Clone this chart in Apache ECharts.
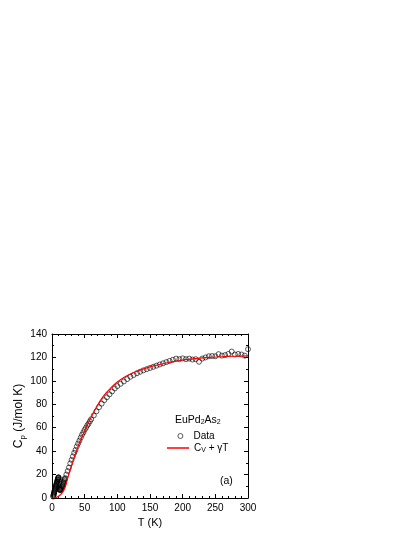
<!DOCTYPE html>
<html>
<head>
<meta charset="utf-8">
<script src="https://cdn.jsdelivr.net/npm/echarts@6/dist/echarts.min.js"></script>
<style>
  html, body { margin: 0; padding: 0; background: #fff; }
  #chart { width: 415px; height: 537px; }
</style>
</head>
<body>
<div id="chart"></div>
<script>
  // measured Cp points (T in K, Cp in J/mol K)
  var tData = [1.8, 2.1, 2.4, 2.7, 3.0, 3.3, 3.6, 3.9, 4.2, 4.5, 4.8, 5.1, 5.4, 5.7, 6.0, 6.3, 6.6, 6.9, 7.2, 7.5, 7.8, 8.1, 8.4, 8.7,
    9.0, 9.3, 9.6, 9.9, 10.2, 10.5, 10.8, 11.1, 11.4, 11.7, 12, 12.5, 13, 13.5, 14, 14.5, 15, 15.5, 16, 16.5, 17, 17.5, 18, 18.5, 19, 19.5,
    20, 22, 24, 26, 28, 30, 32, 34, 36, 38, 40, 42, 44, 46, 48, 50, 52, 54, 56, 58, 60, 64, 68, 72, 76, 80, 84, 88, 92, 96,
    100, 105, 110, 115, 120, 125, 130, 135, 140, 145, 150, 155, 160, 165, 170, 175, 180, 185, 190, 195, 200, 205, 210, 215,
    220, 225, 230, 235, 240, 245, 250, 255, 260, 265, 270, 275, 280, 285, 290, 295, 300]
  var cpData = [1.2, 1.8, 2.5, 3.2, 4, 4.6, 5.3, 6, 6.6, 7.2, 7.8, 8.4, 9, 9.6, 10.2, 10.8, 11.4, 12, 12.6, 13.2, 13.8, 14.4, 15, 15.6,
    16.2, 16.8, 17.3, 17.7, 17.5, 15.5, 12.5, 9.5, 8, 7.3, 7, 6.8, 6.8, 7.1, 7.5, 8.2, 9, 9.7, 10.5, 11.2, 12, 12.8, 13.5, 14.5, 15.5, 16.2,
    17, 20, 23, 26, 29.5, 32.5, 35.5, 38.5, 41, 44, 46.5, 49, 51.5, 54, 56, 58.2, 60, 62, 63.5, 65.5, 67.3, 70.5, 74, 77.5, 80.5, 83.5, 86, 88.5, 91, 93.5,
    95.5, 97.5, 99.5, 101.5, 103.5, 105, 106.5, 107.8, 109, 110, 111, 112, 113, 114, 115, 116, 117, 118, 119, 118.5, 119.2, 118.5, 119, 118.2,
    118.5, 116.3, 119, 120, 121, 121.2, 121, 122.8, 121.5, 122, 123, 125, 122.5, 123, 122.5, 121.5, 127]

  // fit curve Cv + gamma T
  var tFit = [0, 5, 10, 15, 20, 25, 30, 35, 40, 45, 50, 55, 60, 65, 70, 75, 80, 85, 90, 100, 110, 120, 130, 140, 150, 160, 170, 180, 190, 200, 220, 240, 260, 280, 300]
  var cpFit = [0, 0.2, 1.5, 4, 9, 19, 28, 36.5, 44, 51, 57.5, 63.5, 69, 74.5, 79.5, 84, 87.8, 91, 94, 99, 102.8, 105.8, 108.2, 110.2, 111.9, 113.3, 114.6, 115.8, 116.9, 117.8, 119, 120, 120.6, 121, 121.3]

  var xRange = [0, 300, 50]
  var yRange = [0, 140, 20]

  var chart = echarts.init(document.getElementById('chart'))
  var font = 'Liberation Sans, Arial, sans-serif'

  function makeAxis(pos, showLabel, range, minor) {
    return {
      type: 'value',
      position: pos,
      min: range[0],
      max: range[1],
      interval: range[2],
      axisLine: { show: true, onZero: false, lineStyle: { color: '#000', width: 1 } },
      axisTick: { show: true, inside: true, length: 4, lineStyle: { color: '#000' } },
      minorTick: { show: true, splitNumber: minor, length: 2, lineStyle: { color: '#000' } },
      splitLine: { show: false },
      axisLabel: { show: showLabel, color: '#000', fontSize: 10, fontFamily: font, margin: 5 }
    }
  }

  var xBottom = makeAxis('bottom', true, xRange, 5)
  xBottom.name = 'T (K)'
  xBottom.nameLocation = 'middle'
  xBottom.nameGap = 19
  xBottom.nameTextStyle = { color: '#000', fontSize: 11, fontFamily: font }

  var yLeft = makeAxis('left', true, yRange, 2)
  yLeft.name = '{a|C}{b|p}{a| (J/mol K)}'
  yLeft.nameLocation = 'middle'
  yLeft.nameGap = 17
  yLeft.nameTextStyle = {
    color: '#000', fontFamily: font,
    rich: {
      a: { fontSize: 12, fontFamily: font, color: '#000', lineHeight: 16 },
      b: { fontSize: 8, fontFamily: font, color: '#000', lineHeight: 16, padding: [7, 0, 0, 0] }
    }
  }

  var legendText = {
    color: '#000', fontSize: 10, fontFamily: font, lineHeight: 12,
    rich: {
      n: { fontSize: 10, fontFamily: font, color: '#000', lineHeight: 12 },
      s: { fontSize: 7, fontFamily: font, color: '#000', lineHeight: 12, padding: [5, 0, 0, 0] }
    }
  }

  var option = {
    animation: false,
    backgroundColor: '#fff',
    grid: { left: 52, right: 167, top: 334, bottom: 39 },
    xAxis: [xBottom, makeAxis('top', false, xRange, 5)],
    yAxis: [yLeft, makeAxis('right', false, yRange, 2)],
    legend: [
      {
        left: 177.5,
        top: 430,
        padding: 0,
        itemWidth: 5,
        itemHeight: 5,
        data: [{ name: 'Data', icon: 'circle' }],
        itemStyle: { color: '#fff', borderColor: '#000', borderWidth: 0.8 },
        textStyle: legendText,
        formatter: function () { return '{n|  Data}' }
      },
      {
        left: 167,
        top: 442,
        padding: 0,
        itemWidth: 22,
        itemHeight: 1.5,
        data: [{ name: 'Cv + γT', icon: 'rect' }],
        itemStyle: { color: '#ff0000' },
        textStyle: legendText,
        formatter: function () { return '{n|C}{s|V}{n| + γT}' }
      }
    ],
    graphic: [
      {
        type: 'text',
        left: 175,
        top: 414,
        style: {
          text: '{n|EuPd}{s|2}{n|As}{s|2}',
          rich: {
            n: { fontSize: 10.5, fontFamily: font, fill: '#000', lineHeight: 12 },
            s: { fontSize: 7, fontFamily: font, fill: '#000', lineHeight: 12, padding: [5, 0, 0, 0] }
          }
        }
      },
      {
        type: 'text',
        left: 220,
        top: 476,
        style: { text: '(a)', fontSize: 10.5, fontFamily: font, fill: '#000' }
      }
    ],
    series: [
      {
        name: 'Data',
        type: 'scatter',
        symbol: 'circle',
        symbolSize: 5,
        itemStyle: { color: 'rgba(255,255,255,0)', borderColor: '#000', borderWidth: 0.8 },
        data: tData.map(function (t, i) { return [t, cpData[i]] }),
        z: 2
      },
      {
        name: 'Cv + γT',
        type: 'line',
        smooth: 0.3,
        symbol: 'none',
        lineStyle: { color: '#ff0000', width: 1.2 },
        itemStyle: { color: '#ff0000' },
        data: tFit.map(function (t, i) { return [t, cpFit[i]] }),
        z: 3
      }
    ]
  }
  chart.setOption(option)
</script>
</body>
</html>
